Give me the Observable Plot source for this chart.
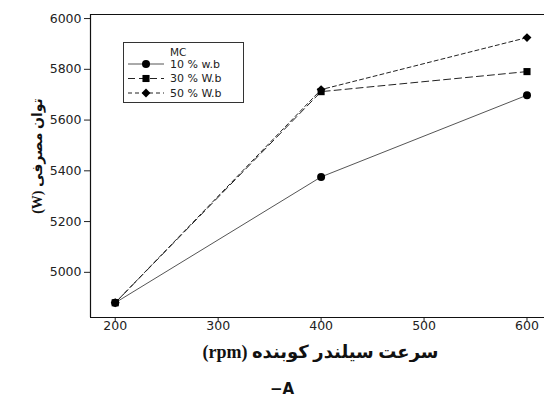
<!DOCTYPE html>
<html>
<head>
<meta charset="utf-8">
<script src="https://cdn.jsdelivr.net/npm/d3@7"></script>
<script src="https://cdn.jsdelivr.net/npm/@observablehq/plot@0.6"></script>
<style>
  html, body { margin: 0; padding: 0; background: #fff; }
  #wrap { position: relative; width: 544px; height: 399px; overflow: hidden; }
  #caption { position: absolute; left: 270px; top: 380px; font: bold 15px "DejaVu Sans", sans-serif; color: #111; }
  #legend { position: absolute; left: 0; top: 0; }
</style>
</head>
<body>
<div id="wrap"></div>
<script>
// Cylinder speed (rpm)
const speeds = [200, 400, 600];
// Moisture content series
const series = ["10 % w.b", "30 % W.b", "50 % W.b"];
// Power consumption (W) per series, by speed
const power10 = [4880, 5376, 5698];
const power30 = [4880, 5712, 5791];
const power50 = [4880, 5720, 5925];
// Axis ticks and extents
const xTicks = [200, 300, 400, 500, 600];
const yTicks = [5000, 5200, 5400, 5600, 5800, 6000];
const xDomain = [176, 617];
const yDomain = [4822, 6016];

const xLabel = "سرعت سیلندر کوبنده (rpm)";
const yLabel = "توان مصرفی (W)";

const values = [power10, power30, power50];
const data = series.flatMap((s, i) => speeds.map((sp, j) => ({series: s, speed: sp, power: values[i][j]})));

const styles = {
  "10 % w.b": {stroke: "#555", dash: null, symbol: "circle"},
  "30 % W.b": {stroke: "#222", dash: "7,4", symbol: "square"},
  "50 % W.b": {stroke: "#222", dash: "4,3", symbol: "diamond2"}
};

const lineMarks = series.map(s => Plot.line(data.filter(d => d.series === s), {
  x: "speed", y: "power", stroke: styles[s].stroke, strokeWidth: 1,
  strokeDasharray: styles[s].dash || undefined
}));
const dotMarks = series.map(s => Plot.dot(data.filter(d => d.series === s), {
  x: "speed", y: "power", fill: "#000", stroke: "none", r: 4, symbol: () => styles[s].symbol
}));

const chart = Plot.plot({
  width: 544,
  height: 362,
  marginLeft: 90,
  marginRight: 0,
  marginTop: 14,
  marginBottom: 45,
  style: {fontFamily: "DejaVu Sans, sans-serif", fontSize: "12.5px", color: "#222", background: "#fff"},
  x: {domain: xDomain, ticks: xTicks, tickSize: 4, tickPadding: 4, label: null, tickFormat: d => String(d)},
  y: {domain: yDomain, ticks: yTicks, tickSize: 6, tickPadding: 3, label: null, tickFormat: d => String(d)},
  symbol: {type: "identity"},
  marks: [
    Plot.ruleY([yDomain[0]], {stroke: "#111", strokeWidth: 1.2}),
    Plot.ruleY([yDomain[1]], {stroke: "#111", strokeWidth: 1}),
    Plot.ruleX([xDomain[0]], {stroke: "#111", strokeWidth: 1.2}),
    ...lineMarks,
    ...dotMarks,
    Plot.text([xLabel], {frameAnchor: "bottom", dx: 3, dy: 40, text: d => d, textAnchor: "middle",
      fontSize: 18, fontWeight: "bold", fontFamily: "Liberation Serif, DejaVu Sans, serif", fill: "#111"}),
    Plot.text([yLabel], {frameAnchor: "left", dx: -53, dy: -10, rotate: -90, text: d => d, textAnchor: "middle",
      fontSize: 14, fontWeight: "bold", fontFamily: "Liberation Serif, DejaVu Sans, serif", fill: "#111"})
  ]
});

// Right-to-left base direction for the Persian axis titles
d3.select(chart).selectAll("text")
  .filter(function() { return /[\u0600-\u06FF]/.test(this.textContent); })
  .attr("direction", "rtl").style("unicode-bidi", "embed");

// Nudge the x tick labels a little further below the axis
d3.select(chart).selectAll('[aria-label^="x-axis"] text')
  .attr("y", function() { return (+this.getAttribute("y") || 0) + 4; });

const wrap = document.getElementById("wrap");
wrap.appendChild(chart);

// Legend box
const leg = d3.select(wrap).append("svg").attr("id", "legend").attr("width", 544).attr("height", 362);
leg.append("rect").attr("x", 123.5).attr("y", 42.5).attr("width", 120).attr("height", 60)
  .attr("fill", "#fff").attr("stroke", "#333").attr("stroke-width", 1);
leg.append("text").attr("x", 170).attr("y", 52).attr("dy", "0.35em")
  .attr("font-family", "DejaVu Sans, sans-serif").attr("font-size", 10.5).attr("fill", "#222").text("MC");
const symGen = {circle: d3.symbolCircle, square: d3.symbolSquare, diamond2: d3.symbolDiamond2};
series.forEach((s, i) => {
  const y = 64 + i * 14.5;
  const st = styles[s];
  leg.append("line").attr("x1", 128).attr("x2", 164).attr("y1", y).attr("y2", y)
    .attr("stroke", st.stroke).attr("stroke-width", 1).attr("stroke-dasharray", st.dash);
  leg.append("path").attr("transform", `translate(146,${y})`)
    .attr("d", d3.symbol(symGen[st.symbol], 16 * Math.PI)()).attr("fill", "#000");
  leg.append("text").attr("x", 170).attr("y", y).attr("dy", "0.35em")
    .attr("font-family", "DejaVu Sans, sans-serif").attr("font-size", 11).attr("fill", "#222").text(s);
});

const cap = document.createElement("div");
cap.id = "caption";
cap.textContent = "−A";
wrap.appendChild(cap);
</script>
</body>
</html>
